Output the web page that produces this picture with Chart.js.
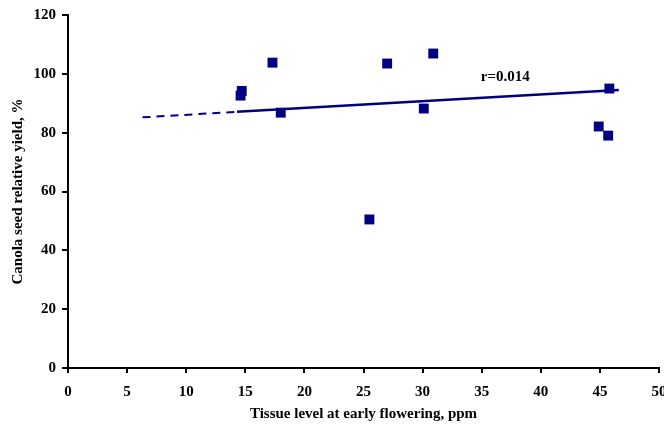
<!DOCTYPE html>
<html>
<head>
<meta charset="utf-8">
<script src="https://cdn.jsdelivr.net/npm/chart.js@4/dist/chart.umd.min.js"></script>
<style>
  html, body { margin: 0; padding: 0; background: #fff; overflow: hidden; }
  #wrap { width: 690px; height: 427px; }
</style>
</head>
<body>
<div id="wrap"><canvas id="chart" width="690" height="427"></canvas></div>
<script>
// tissue level (ppm) vs canola seed relative yield (%)
const tissueLevel = [14.7, 14.6, 17.3, 18.0, 25.5, 27.0, 30.1, 30.9, 44.9, 45.7, 45.8];
const relYield = [94.2, 92.6, 103.8, 86.8, 50.5, 103.5, 88.2, 106.9, 82.1, 79.0, 95.0];

// trend line
const trendDashX = [6.3, 14.3];
const trendDashY = [85.2, 87.1];
const trendSolidX = [14.3, 46.6];
const trendSolidY = [87.1, 94.5];

const rLabel = "r=0.014";
const rLabelAt = [37.0, 99.0];

const xTicks = [0, 5, 10, 15, 20, 25, 30, 35, 40, 45, 50];
const yTicks = [0, 20, 40, 60, 80, 100, 120];

const navy = "#000080";
const font = { family: "'Liberation Serif', 'Times New Roman', serif", size: 15, weight: "bold" };

const toPoints = (xs, ys) => xs.map((x, i) => ({ x: x, y: ys[i] }));

const labelPlugin = {
  id: "rlabel",
  afterDatasetsDraw(chart) {
    const c = chart.ctx;
    const px = chart.scales.x.getPixelForValue(rLabelAt[0]);
    const py = chart.scales.y.getPixelForValue(rLabelAt[1]);
    c.save();
    c.font = "bold 15px 'Liberation Serif', serif";
    c.fillStyle = "#000";
    c.textAlign = "center";
    c.textBaseline = "middle";
    c.fillText(rLabel, px, py);
    c.restore();
  }
};

const ctx = document.getElementById("chart").getContext("2d");
const chart = new Chart(ctx, {
  type: "scatter",
  data: {
    datasets: [
      {
        label: "trend dashed",
        type: "line",
        data: toPoints(trendDashX, trendDashY),
        borderColor: navy,
        borderWidth: 2,
        borderDash: [8, 6],
        pointRadius: 0,
        fill: false,
      },
      {
        label: "trend",
        type: "line",
        data: toPoints(trendSolidX, trendSolidY),
        borderColor: navy,
        borderWidth: 2.5,
        pointRadius: 0,
        fill: false,
      },
      {
        label: "Yield",
        data: toPoints(tissueLevel, relYield),
        pointStyle: "rect",
        pointRadius: 7,
        pointBackgroundColor: navy,
        pointBorderColor: navy,
        pointBorderWidth: 0,
      },
    ],
  },
  options: {
    responsive: false,
    animation: false,
    layout: { padding: { top: 14, right: 31, left: 0, bottom: 0 } },
    plugins: {
      legend: { display: false },
      tooltip: { enabled: false },
    },
    scales: {
      x: {
        type: "linear",
        min: 0,
        max: 50,
        afterBuildTicks: (s) => { s.ticks = xTicks.map((v) => ({ value: v })); },
        afterFit: (s) => { s.height = 59; },
        border: { color: "#000", width: 2 },
        grid: { display: true, drawOnChartArea: false, drawTicks: true, tickLength: 5, color: "#000", lineWidth: 2 },
        ticks: { color: "#000", font: font, padding: 10, maxRotation: 0 },
        title: { display: true, text: "Tissue level at early flowering, ppm", color: "#000", font: font, padding: { top: 2, bottom: 4 } },
      },
      y: {
        type: "linear",
        min: 0,
        max: 120,
        afterBuildTicks: (s) => { s.ticks = yTicks.map((v) => ({ value: v })); },
        afterFit: (s) => { s.width = 68; },
        border: { color: "#000", width: 2 },
        grid: { display: true, drawOnChartArea: false, drawTicks: true, tickLength: 6, color: "#000", lineWidth: 2 },
        ticks: { color: "#000", font: font, padding: 6 },
        title: { display: true, text: "Canola seed relative yield, %", color: "#000", font: font, padding: { top: 9, bottom: 2 } },
      },
    },
  },
  plugins: [labelPlugin],
});
</script>
</body>
</html>
